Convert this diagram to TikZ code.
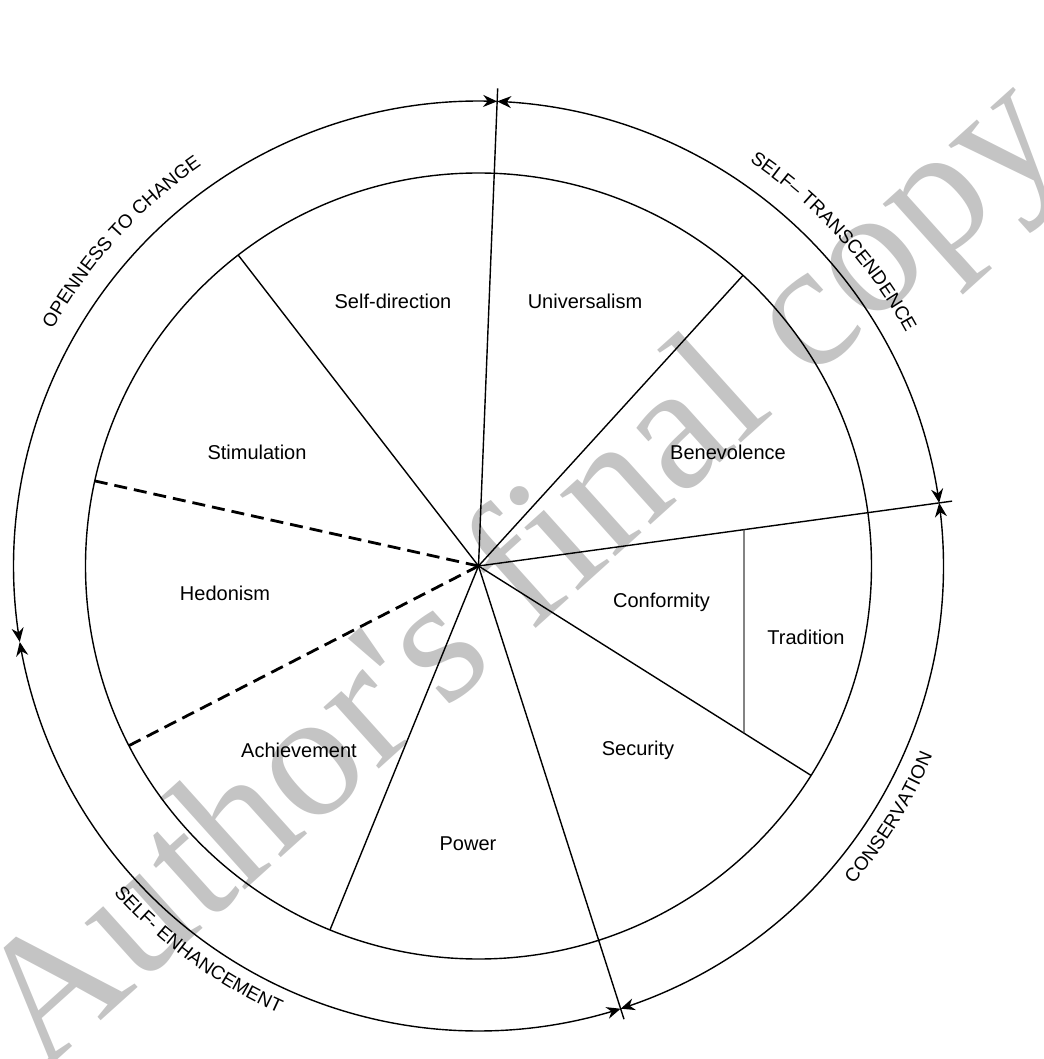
\documentclass[tikz,border=0pt]{standalone}
\usepackage{fontspec}
\setmainfont{Liberation Sans}
\newfontfamily\wmfont{Liberation Serif}
\usetikzlibrary{arrows.meta,bending,decorations.text}
\newcommand\ringfont{\fontsize{9.5}{11}\selectfont}
\begin{document}
\begin{tikzpicture}[x=0.5pt,y=0.5pt,
  seg/.style={line width=0.7pt},
  thinseg/.style={line width=0.55pt, draw=black!75},
  dashseg/.style={line width=1.4pt, dash pattern=on 6.5pt off 3.5pt},
  ring/.style={line width=0.7pt, {Stealth[length=7pt,width=6pt]}-{Stealth[length=7pt,width=6pt]}},
  lbl/.style={font=\fontsize{10}{12}\selectfont, anchor=base},
  ringtext/.style={decorate, decoration={text along path, text align=center, text={#1}}}
]
\useasboundingbox (-478.5,-493) rectangle (564.5,566);
% watermark
\node[rotate=42, text=black!23, font=\wmfont\fontsize{90}{90}\selectfont] (wm) at (48,-12) {Author's final copy};

\coordinate (O) at (0,0);
% inner circle
\draw[seg] (O) circle[radius=393];

% long radial lines
\coordinate (L1) at (87.7:478);
\coordinate (L2) at (7.8:478);
\coordinate (L3) at (-72.2:476);
\draw[seg] (O) -- (L1);
\draw[seg] (O) -- (L2);
\draw[seg] (O) -- (L3);
% short radial lines
\coordinate (S1) at (127.7:393);
\coordinate (S2) at (47.7:393);
\coordinate (S3) at (-32.2:393);
\coordinate (S4) at (247.8:393);
\draw[seg] (O) -- (S1);
\draw[seg] (O) -- (S2);
\draw[seg] (O) -- (S3);
\draw[seg] (O) -- (S4);
% dashed
\coordinate (D1) at (167.5:393);
\coordinate (D2) at (207.2:393);
\draw[dashseg] (O) -- (D1);
\draw[dashseg] (O) -- (D2);
% tradition divider
\coordinate (T1) at (7.8:{265.5/cos(7.8)});
\coordinate (T2) at (-32.2:{265.5/cos(32.2)});
\draw[thinseg] (T1) -- (T2);

% outer arcs with arrows
\draw[ring] (87.7:465) arc[start angle=87.7, end angle=7.8, radius=465];
\draw[ring] (7.8:465) arc[start angle=7.8, end angle=-72.2, radius=465];
\draw[ring] (287.8:465) arc[start angle=287.8, end angle=189.4, radius=465];
\draw[ring] (189.4:465) arc[start angle=189.4, end angle=87.7, radius=465];

% ring labels
\path[ringtext={|\ringfont|OPENNESS TO CHANGE}] (167.8:487) arc[start angle=167.8, end angle=107.8, radius=487];
\path[ringtext={|\ringfont|SELF– TRANSCENDENCE}] (72.4:487) arc[start angle=72.4, end angle=12.4, radius=487];
\path[ringtext={|\ringfont|CONSERVATION}] (-61.5:492) arc[start angle=-61.5, end angle=-1.5, radius=492];
\path[ringtext={|\ringfont|SELF- ENHANCEMENT}] (203.9:490) arc[start angle=203.9, end angle=263.9, radius=490];

% sector labels
\node[lbl] (sd) at (-85.5,257.7) {Self-direction};
\node[lbl] (un) at (106.5,257.7) {Universalism};
\node[lbl] (st) at (-221.5,106) {Stimulation};
\node[lbl] (be) at (249.5,106) {Benevolence};
\node[lbl] (he) at (-253.5,-35) {Hedonism};
\node[lbl] (co) at (183,-41.3) {Conformity};
\node[lbl] (tr) at (327.5,-79) {Tradition};
\node[lbl] (ac) at (-179.5,-191) {Achievement};
\node[lbl] (se) at (159.5,-189) {Security};
\node[lbl] (po) at (-10.5,-284) {Power};
\end{tikzpicture}
\end{document}
